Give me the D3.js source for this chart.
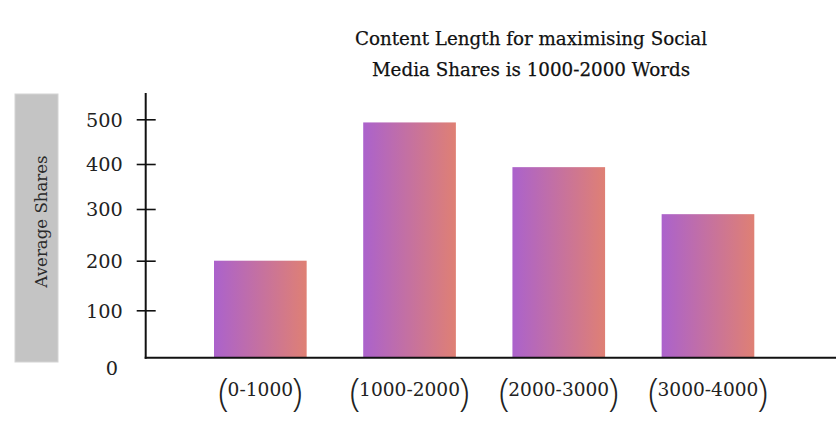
<!DOCTYPE html>
<html><head><meta charset="utf-8">
<script src="https://cdn.jsdelivr.net/npm/d3@7"></script>
<style>body{margin:0;background:#fff}svg{display:block}</style></head>
<body><svg id="c" width="836" height="434"></svg>
<script>
const categories = ["0-1000", "1000-2000", "2000-3000", "3000-4000"];
const values = [200, 493, 393, 290];
const tickValues = [0, 100, 200, 300, 400, 500];
const tickLabels = ["0", "100", "200", "300", "400", "500"];
const titleLines = ["Content Length for maximising Social", "Media Shares is 1000-2000 Words"];
const yTitle = "Average Shares";

const svg = d3.select("#c");
const FONT = "'DejaVu Serif', serif";
const axisX = 145.7, baseY = 357.7, topY = 93;

const defs = svg.append("defs");
const grad = defs.append("linearGradient").attr("id", "barGrad")
  .attr("x1", "0").attr("x2", "1").attr("y1", "0").attr("y2", "0");
grad.append("stop").attr("offset", "0%").attr("stop-color", "#ab62cc");
grad.append("stop").attr("offset", "100%").attr("stop-color", "#df8074");

// irregular (hand-placed) ticks in reference -> polylinear scale
const y = d3.scaleLinear().domain(tickValues).range([357.7, 310.3, 260.7, 209, 164, 119.3]);
const x = d3.scaleBand().domain(categories).range([214, 754.3]).paddingInner(0.379).paddingOuter(0);

// title
svg.append("g").selectAll("text").data(titleLines).join("text")
  .attr("x", 531).attr("y", (d, i) => 45 + i * 30.5)
  .attr("text-anchor", "middle").attr("font-family", FONT).attr("font-size", 18.3)
  .attr("fill", "#111").attr("stroke", "#111").attr("stroke-width", 0.25).text(d => d);

// y title box
svg.append("rect").attr("x", 15).attr("y", 94).attr("width", 43).attr("height", 268)
  .attr("fill", "#c4c4c4").attr("stroke", "#d4d4d4").attr("stroke-width", 1);
svg.append("text").attr("transform", "translate(46.5,221.5) rotate(-90)")
  .attr("text-anchor", "middle").attr("font-family", FONT).attr("font-size", 16.6)
  .attr("fill", "#2a2a2a").text(yTitle);

// bars
svg.append("g").selectAll("rect").data(values).join("rect")
  .attr("x", (d, i) => x(categories[i])).attr("width", x.bandwidth())
  .attr("y", d => y(d)).attr("height", d => y(0) - y(d))
  .attr("fill", "url(#barGrad)");

// y axis
const yAxis = d3.axisLeft(y).tickValues(tickValues).tickFormat((d, i) => tickLabels[i]);
const gy = svg.append("g").attr("transform", `translate(${axisX},0)`).call(yAxis);
gy.select(".domain").remove();
gy.selectAll(".tick line").attr("x1", 10).attr("x2", -9).attr("stroke", "#111").attr("stroke-width", 1.6)
  .filter(d => d === 0).remove();
gy.selectAll(".tick text").attr("font-family", FONT).attr("font-size", 19.3).attr("fill", "#222")
  .attr("text-anchor", "start").attr("x", -59.7).attr("dy", "0.36em");
gy.selectAll(".tick").filter(d => d === 0).select("text")
  .attr("text-anchor", "middle").attr("x", 112 - axisX).attr("y", 10);

// axis lines
svg.append("line").attr("x1", axisX).attr("x2", axisX).attr("y1", topY).attr("y2", baseY + 1)
  .attr("stroke", "#111").attr("stroke-width", 2);
svg.append("line").attr("x1", axisX - 1).attr("x2", 836).attr("y1", baseY).attr("y2", baseY)
  .attr("stroke", "#111").attr("stroke-width", 2);

// x labels with tall parentheses
const PAREN = "'Open Sans', sans-serif";
const xl = svg.append("g").selectAll("text").data(categories).join("text")
  .attr("x", d => x(d) + x.bandwidth() / 2).attr("y", 406)
  .attr("text-anchor", "middle").attr("font-family", FONT).attr("fill", "#222");
xl.append("tspan").attr("font-family", PAREN).attr("font-size", 38).attr("font-weight", 300).text("(");
xl.append("tspan").attr("font-size", 18.6).attr("dy", -10).attr("dx", -1).text(d => d);
xl.append("tspan").attr("font-family", PAREN).attr("font-size", 38).attr("font-weight", 300).attr("dy", 10).attr("dx", -1).text(")");
</script></body></html>
